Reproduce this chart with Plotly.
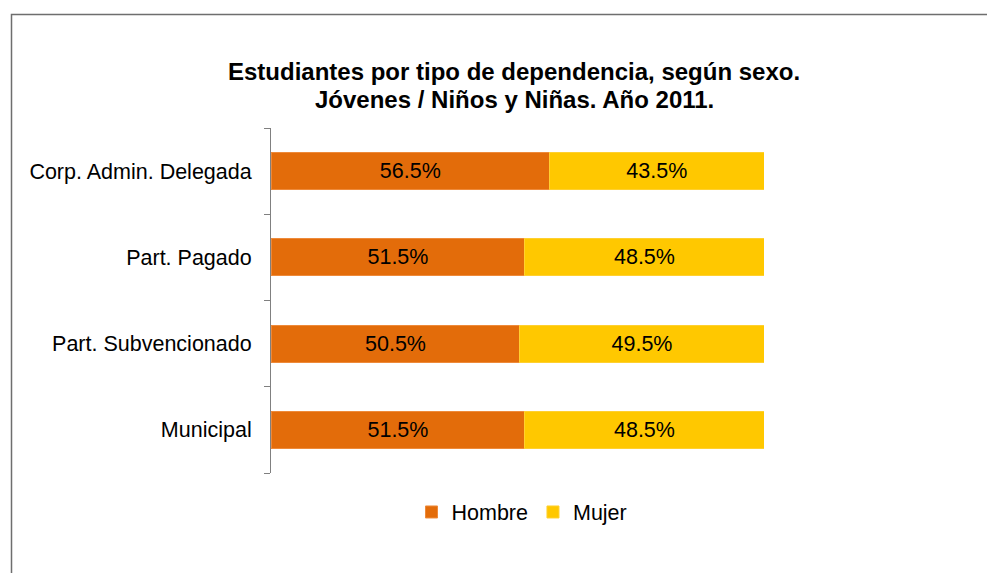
import plotly.graph_objects as go

categories = ["Municipal", "Part. Subvencionado", "Part. Pagado", "Corp. Admin. Delegada"]
hombre = [51.5, 50.5, 51.5, 56.5]
mujer = [48.5, 49.5, 48.5, 43.5]
series_names = ["Hombre", "Mujer"]
title_lines = ["Estudiantes por tipo de dependencia, según sexo.", "Jóvenes / Niños y Niñas. Año 2011."]

FONT = "Liberation Sans, Arial, sans-serif"
colors = ["#E36C0A", "#FFC800"]
edge = ["#EE8A3A", "#FFD030"]

fig = go.Figure()
for name, vals, c, e in zip(series_names, [hombre, mujer], colors, edge):
    fig.add_trace(go.Bar(
        y=categories, x=vals, name=name, orientation="h",
        marker=dict(color=c, line=dict(color=e, width=1)),
        texttemplate="%{x:.1f}%", textposition="inside", insidetextanchor="middle",
        textfont=dict(family=FONT, size=21.5, color="black"),
        constraintext="none",
    ))

OFF = 8  # page body margin
W, H = 995 - OFF, 573 - OFF
L, R, T, B = 271 - OFF, 231, 128 - OFF, 100
pw, ph = W - L - R, H - T - B
px = lambda x: (x - OFF - L) / pw
py = lambda y: (H - B - (y - OFF)) / ph

annotations = [
    dict(text="<b>" + t + "</b>", xref="paper", yref="paper", x=px(514), y=py(yy), xanchor="center",
         yanchor="middle", showarrow=False, font=dict(family=FONT, size=24, color="black"))
    for t, yy in zip(title_lines, [72, 100])
]

fig.update_layout(
    width=W, height=H, barmode="stack", bargap=0.57,
    margin=dict(l=L, r=R, t=T, b=B),
    paper_bgcolor="white", plot_bgcolor="white",
    font=dict(family=FONT, size=21.5, color="black"),
    annotations=annotations,
    xaxis=dict(range=[0, 100], visible=False, fixedrange=True),
    yaxis=dict(categoryorder="array", categoryarray=categories, showline=True, linecolor="#808080",
               linewidth=1, ticks="outside", tickson="boundaries", ticklen=6, tickcolor="#808080",
               ticklabelstandoff=14, showgrid=False, tickfont=dict(family=FONT, size=21.5, color="black")),
    legend=dict(orientation="h", x=px(522), xanchor="center", y=py(512), yanchor="middle",
                font=dict(family=FONT, size=21.5, color="black"), itemwidth=30, traceorder="normal"),
    shapes=[dict(type="rect", xref="paper", yref="paper", x0=px(11.5), x1=px(1005), y0=py(590), y1=py(14.5),
                 line=dict(color="#6e6e6e", width=1.5), fillcolor="rgba(0,0,0,0)", layer="below")],
    showlegend=True,
)
fig.write_html("out.html")
